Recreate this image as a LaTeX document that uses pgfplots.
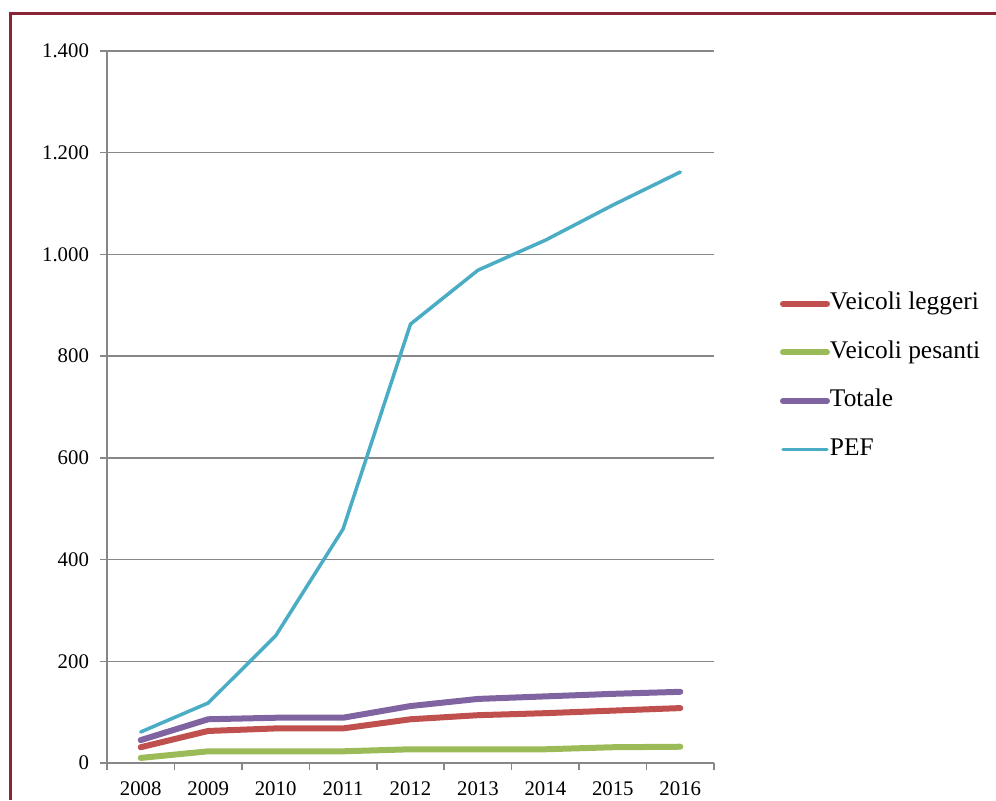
\documentclass[border=0pt]{standalone}
\usepackage{pgfplots}
\pgfplotsset{compat=1.18}
\usepackage{fontspec}
\setmainfont{Liberation Serif}
\definecolor{framecol}{HTML}{8B2535}
\definecolor{gridgray}{HTML}{878787}
\definecolor{cred}{HTML}{C0504D}
\definecolor{cgreen}{HTML}{9BBB59}
\definecolor{cpurple}{HTML}{8064A2}
\definecolor{ccyan}{HTML}{4BACC6}
\begin{document}
\begin{tikzpicture}[x=1pt,y=1pt]
\useasboundingbox (0,0) rectangle (498,400);
\draw[framecol, line width=1.5pt] (5.25,0) -- (5.25,393) -- (498,393);
\begin{axis}[
  at={(53.5pt,18.5pt)}, anchor=south west,
  width=303.5pt, height=356pt, scale only axis,
  xmin=-0.5, xmax=8.5, ymin=0, ymax=1400,
  axis x line*=bottom, axis y line*=left,
  axis line style={draw=gridgray, line width=0.75pt, -},
  ymajorgrids, grid style={draw=gridgray, line width=0.75pt},
  ytick={0,200,...,1400},
  xtick={0,...,8},
  xticklabels={2008,2009,2010,2011,2012,2013,2014,2015,2016},
  minor xtick={-0.5,0.5,...,8.5},
  tick align=outside,
  major tick length=3.5pt, minor tick length=3.5pt,
  major x tick style={draw=none},
  every tick/.style={draw=gridgray, line width=0.75pt},
  minor x tick style={draw=gridgray, line width=0.75pt},
  major y tick style={draw=gridgray, line width=0.75pt},
  /pgf/number format/.cd, 1000 sep={.}, assume math mode=true, /pgfplots/.cd,
  tick label style={font=\fontsize{10.4}{12}\selectfont},
  yticklabel style={xshift=-2pt},
  xticklabel style={yshift=-2.5pt},
  legend style={at={(1.1087,0.5428)}, anchor=west, draw=none, fill=none,
    inner sep=0pt, outer sep=0pt, row sep=12.3pt,
    font=\fontsize{12.7}{14}\selectfont,
    nodes={inner sep=0pt, text height=9pt, text depth=3pt}},
  legend cell align=left,
  legend image code/.code={\draw[#1, line cap=round] (0pt,0pt) -- (22pt,0pt);},
  /tikz/every even column/.append style={column sep=0.5pt},
  every axis plot/.append style={line join=round, line cap=round},
]
\addplot[cred, line width=3pt] coordinates {(0,31) (1,63) (2,68) (3,68) (4,86) (5,94) (6,98) (7,103) (8,108)};
\addlegendentry{Veicoli leggeri}
\addplot[cgreen, line width=3pt] coordinates {(0,10) (1,23) (2,23) (3,23) (4,27) (5,27) (6,27) (7,31) (8,32)};
\addlegendentry{Veicoli pesanti}
\addplot[cpurple, line width=3pt] coordinates {(0,45) (1,86) (2,89) (3,89) (4,112) (5,126) (6,131) (7,136) (8,140)};
\addlegendentry{Totale}
\addplot[ccyan, line width=1.75pt] coordinates {(0,61) (1,118) (2,250) (3,460) (4,863) (5,969) (6,1028) (7,1097) (8,1162)};
\addlegendentry{PEF}
\end{axis}
\end{tikzpicture}
\end{document}
